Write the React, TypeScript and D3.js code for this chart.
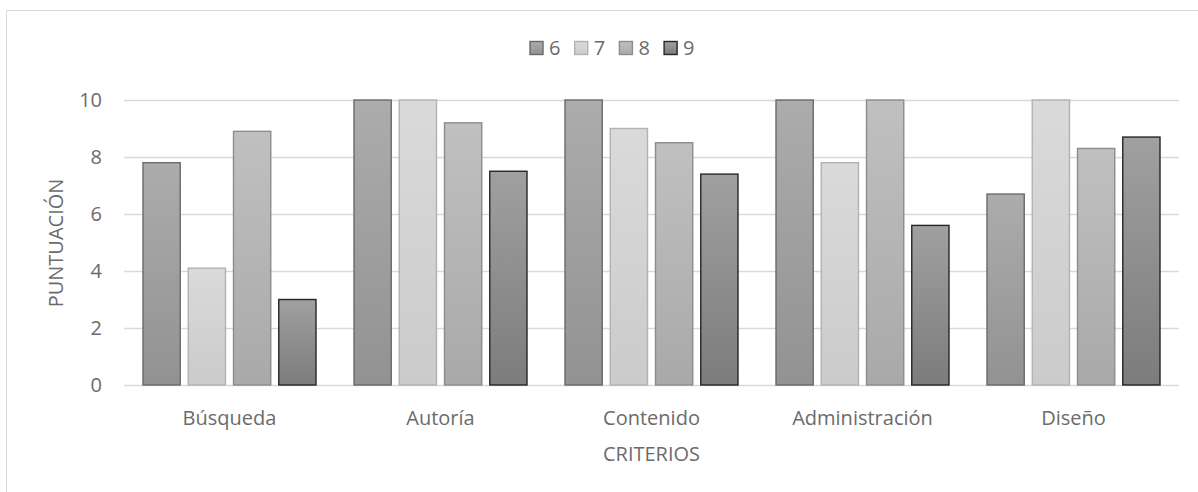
import React from "react";
import * as d3 from "d3";

// Puntuación por criterio para cada serie (6, 7, 8, 9)
const categories = ["Búsqueda", "Autoría", "Contenido", "Administración", "Diseño"];
const seriesNames = ["6", "7", "8", "9"];
const serie6 = [7.8, 10, 10, 10, 6.7];
const serie7 = [4.1, 10, 9.0, 7.8, 10];
const serie8 = [8.9, 9.2, 8.5, 10, 8.3];
const serie9 = [3.0, 7.5, 7.4, 5.6, 8.7];
const yTicks = [0, 2, 4, 6, 8, 10];

const seriesValues = [serie6, serie7, serie8, serie9];

// fill gradient (top, bottom) and outline per series
const palette = [
  { top: "#acacac", bottom: "#929292", stroke: "#6a6a6a" },
  { top: "#dadada", bottom: "#cbcbcb", stroke: "#b2b2b2" },
  { top: "#c0c0c0", bottom: "#a9a9a9", stroke: "#8c8c8c" },
  { top: "#a0a0a0", bottom: "#7c7c7c", stroke: "#262626" },
];

const W = 1198;
const H = 492;
const plot = { left: 124, right: 1179, top: 100, bottom: 385 };
const FONT = "'Open Sans', sans-serif";
const TEXT = "#6b6b6b";

export default function App() {
  const x0 = d3
    .scaleBand<string>()
    .domain(categories)
    .range([plot.left, plot.right])
    .paddingInner(0)
    .paddingOuter(0);
  const inset = 19;
  const x1 = d3
    .scaleBand<string>()
    .domain(seriesNames)
    .range([inset, x0.bandwidth() - inset])
    .paddingInner(0.177)
    .paddingOuter(0);
  const y = d3.scaleLinear().domain([0, 10]).range([plot.bottom, plot.top]);

  // legend layout
  const legendY = 48;
  const legendStart = 530;
  const legendStep = 44.7;

  return (
    <div style={{ position: "absolute", left: 0, top: 0 }}>
      <svg width={W} height={H} style={{ display: "block", background: "#fff" }}>
        <defs>
          {palette.map((p, i) => (
            <linearGradient key={i} id={`g${i}`} x1="0" y1="0" x2="0" y2="1">
              <stop offset="0%" stopColor={p.top} />
              <stop offset="100%" stopColor={p.bottom} />
            </linearGradient>
          ))}
        </defs>
        <rect x={6.5} y={10.5} width={W} height={H} fill="none" stroke="#d9d9d9" strokeWidth={1} />

        {/* gridlines */}
        {yTicks.map((t) => (
          <line
            key={t}
            x1={plot.left}
            x2={plot.right}
            y1={Math.round(y(t)) + 0.5}
            y2={Math.round(y(t)) + 0.5}
            stroke="#d9d9d9"
            strokeWidth={1.3}
          />
        ))}

        {/* y tick labels */}
        {yTicks.map((t) => (
          <text
            key={t}
            x={102}
            y={y(t)}
            dy="0.35em"
            textAnchor="end"
            fontFamily={FONT}
            fontSize={20}
            fill={TEXT}
          >
            {t}
          </text>
        ))}

        {/* bars */}
        {categories.map((c, ci) => (
          <g key={c} transform={`translate(${x0(c)},0)`}>
            {seriesNames.map((s, si) => {
              const v = seriesValues[si][ci];
              return (
                <rect
                  key={s}
                  x={x1(s)!}
                  y={y(v)}
                  width={x1.bandwidth()}
                  height={y(0) - y(v)}
                  fill={`url(#g${si})`}
                  stroke={palette[si].stroke}
                  strokeWidth={1.4}
                />
              );
            })}
          </g>
        ))}

        {/* category labels */}
        {categories.map((c) => (
          <text
            key={c}
            x={x0(c)! + x0.bandwidth() / 2}
            y={418}
            dy="0.35em"
            textAnchor="middle"
            fontFamily={FONT}
            fontSize={20}
            fill={TEXT}
          >
            {c}
          </text>
        ))}

        {/* axis titles */}
        <text
          x={(plot.left + plot.right) / 2}
          y={454}
          dy="0.35em"
          textAnchor="middle"
          fontFamily={FONT}
          fontSize={20}
          fill={TEXT}
        >
          CRITERIOS
        </text>
        <text
          transform={`translate(56,243) rotate(-90)`}
          dy="0.35em"
          textAnchor="middle"
          fontFamily={FONT}
          fontSize={20}
          fill={TEXT}
        >
          PUNTUACIÓN
        </text>

        {/* legend */}
        {seriesNames.map((s, i) => {
          const lx = legendStart + i * legendStep;
          return (
            <g key={s}>
              <rect
                x={lx}
                y={legendY - 6.5}
                width={13}
                height={13}
                fill={`url(#g${i})`}
                stroke={palette[i].stroke}
                strokeWidth={1.4}
              />
              <text
                x={lx + 19}
                y={legendY}
                dy="0.35em"
                fontFamily={FONT}
                fontSize={20}
                fill={TEXT}
              >
                {s}
              </text>
            </g>
          );
        })}
      </svg>
    </div>
  );
}
